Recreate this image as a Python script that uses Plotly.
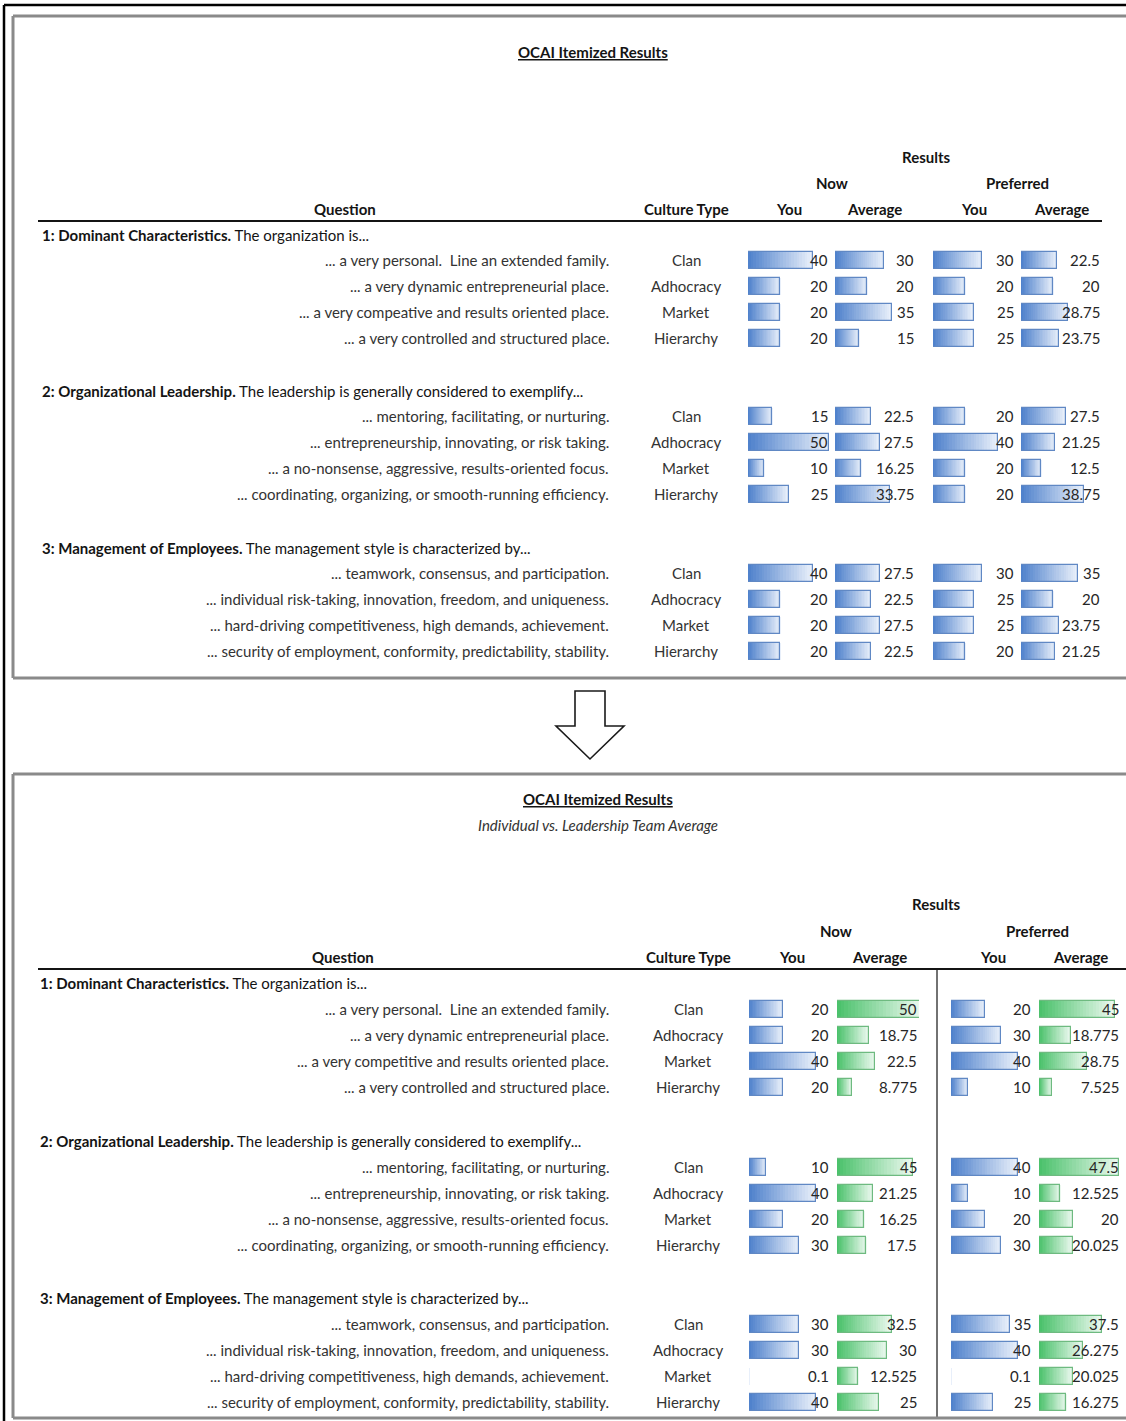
import plotly.graph_objects as go

W, H = 1126, 1421

# ---------------------------------------------------------------- data
culture_types = ["Clan", "Adhocracy", "Market", "Hierarchy"]

section_heads = [
    ("1: Dominant Characteristics.", "The organization is..."),
    ("2: Organizational Leadership.", "The leadership is generally considered to exemplify..."),
    ("3: Management of Employees.", "The management style is characterized by..."),
]

questions_before = [
    "... a very personal.\u00a0 Line an extended family.",
    "... a very dynamic entrepreneurial place.",
    "... a very compeative and results oriented place.",
    "... a very controlled and structured place.",
    "... mentoring, facilitating, or nurturing.",
    "... entrepreneurship, innovating, or risk taking.",
    "... a no-nonsense, aggressive, results-oriented focus.",
    "... coordinating, organizing, or smooth-running efficiency.",
    "... teamwork, consensus, and participation.",
    "... individual risk-taking, innovation, freedom, and uniqueness.",
    "... hard-driving competitiveness, high demands, achievement.",
    "... security of employment, conformity, predictability, stability.",
]
questions_after = list(questions_before)
questions_after[2] = "... a very competitive and results oriented place."

col_heads = ["You", "Average", "You", "Average"]

# first table (three sections x four culture types)
before_now_you = [40, 20, 20, 20, 15, 50, 10, 25, 40, 20, 20, 20]
before_now_avg = [30, 20, 35, 15, 22.5, 27.5, 16.25, 33.75, 27.5, 22.5, 27.5, 22.5]
before_pref_you = [30, 20, 25, 25, 20, 40, 20, 20, 30, 25, 25, 20]
before_pref_avg = [22.5, 20, 28.75, 23.75, 27.5, 21.25, 12.5, 38.75, 35, 20, 23.75, 21.25]

# second table: individual vs. leadership team average
after_now_you = [20, 20, 40, 20, 10, 40, 20, 30, 30, 30, 0.1, 40]
after_now_avg = [50, 18.75, 22.5, 8.775, 45, 21.25, 16.25, 17.5, 32.5, 30, 12.525, 25]
after_pref_you = [20, 30, 40, 10, 40, 10, 20, 30, 35, 40, 0.1, 25]
after_pref_avg = [45, 18.775, 28.75, 7.525, 47.5, 12.525, 20, 20.025, 37.5, 26.275, 20.025, 16.275]

# ---------------------------------------------------------------- styling
FONT = "Lato"
TXT = "#333333"
DARK = "#141414"
BLUE = ((80, 130, 204), (232, 239, 250), "rgb(96,136,196)")
GREEN = ((76, 194, 108), (234, 248, 238), "rgb(110,186,128)")
NSEG = 24

panels = [
    dict(title_x=593, title_y=52, subtitle=None,
         results=(926, 157), now=(832, 183), pref=(1017, 183),
         head_y=209, question_x=345, culture_x=686, heads_x=[789, 874, 974, 1061],
         rule_y=221, rule_x=(38, 1102), sec_y=[235, 391, 548], first_gap=25,
         left_x=40, question_right=611,
         cells=[(748, 830), (835, 916), (933, 1016), (1021, 1102)], scale=1.62,
         palettes=[BLUE, BLUE, BLUE, BLUE], divider_x=None,
         questions=questions_before,
         series=[before_now_you, before_now_avg, before_pref_you, before_pref_avg]),
    dict(title_x=598, title_y=799, subtitle=(598, 825, "Individual vs. Leadership Team Average"),
         results=(936, 904), now=(836, 931), pref=(1037, 931),
         head_y=957, question_x=343, culture_x=688, heads_x=[792, 879, 993, 1080],
         rule_y=969, rule_x=(38, 1126), sec_y=[983, 1141, 1298], first_gap=26,
         left_x=38, question_right=611,
         cells=[(749, 831), (837, 919), (951, 1033), (1039, 1121)], scale=1.68,
         palettes=[BLUE, GREEN, BLUE, GREEN], divider_x=937,
         questions=questions_after,
         series=[after_now_you, after_now_avg, after_pref_you, after_pref_avg]),
]

fig = go.Figure()
annotations = []
shapes = []
axes = {}


def text(x, y, s, size=15, color=TXT, anchor="center"):
    annotations.append(dict(x=x, y=y, xref="x", yref="y", text=s, showarrow=False,
                            xanchor=anchor, yanchor="middle",
                            font=dict(family=FONT, size=size, color=color)))


def line(x0, y0, x1, y1, color=DARK, width=1):
    shapes.append(dict(type="line", xref="x", yref="y", x0=x0, y0=y0, x1=x1, y1=y1,
                       line=dict(color=color, width=width)))


def mix(c0, c1, t):
    return "rgb(%d,%d,%d)" % tuple(round(a + (b - a) * t) for a, b in zip(c0, c1))


axis_no = 2
for p in panels:
    # titles and headers
    text(p["title_x"], p["title_y"], "<u><b>OCAI Itemized Results</b></u>", size=15, color=DARK)
    if p["subtitle"]:
        sx, sy, st = p["subtitle"]
        text(sx, sy, "<i>" + st + "</i>", size=15, color=TXT)
    text(*p["results"], "<b>Results</b>", color=DARK)
    text(*p["now"], "<b>Now</b>", color=DARK)
    text(*p["pref"], "<b>Preferred</b>", color=DARK)
    text(p["question_x"], p["head_y"], "<b>Question</b>", color=DARK)
    text(p["culture_x"], p["head_y"], "<b>Culture Type</b>", color=DARK)
    for hx, ht in zip(p["heads_x"], col_heads):
        text(hx, p["head_y"], "<b>" + ht + "</b>", color=DARK)
    line(p["rule_x"][0], p["rule_y"], p["rule_x"][1], p["rule_y"], width=2.2)

    # row positions
    rows_y = []
    for s, sy in enumerate(p["sec_y"]):
        bold, rest = section_heads[s]
        text(p["left_x"], sy, "<b>%s</b> %s" % (bold, rest), color=DARK, anchor="left")
        for i in range(4):
            rows_y.append(sy + p["first_gap"] + 26 * i)

    for r, y in enumerate(rows_y):
        text(p["question_right"], y, p["questions"][r], anchor="right")
        text(p["culture_x"], y, culture_types[r % 4])

    if p["divider_x"]:
        line(p["divider_x"], p["rule_y"], p["divider_x"], H - 3, width=1.2)

    # data bars: one hidden x axis per results column, gradient built from
    # overlapping bars that each run from a step along the value to its end
    for (left, right), vals, (c0, c1, edge) in zip(p["cells"], p["series"], p["palettes"]):
        ax = "x%d" % axis_no
        axes["xaxis%d" % axis_no] = dict(domain=[left / W, right / W],
                                         range=[0, (right - left) / p["scale"]],
                                         visible=False, fixedrange=True, anchor="y")
        for k in range(NSEG):
            fig.add_trace(go.Bar(
                orientation="h", xaxis=ax, yaxis="y", y=rows_y,
                x=[v * (NSEG - k) / NSEG for v in vals], base=[k * v / NSEG for v in vals],
                width=17, marker=dict(color=mix(c0, c1, k / (NSEG - 1)), line=dict(width=0)),
                hoverinfo="skip", showlegend=False))
        fig.add_trace(go.Bar(
            orientation="h", xaxis=ax, yaxis="y", y=rows_y, x=vals, width=17,
            marker=dict(color="rgba(0,0,0,0)", line=dict(color=edge, width=1.2)),
            hovertemplate="%{x}<extra></extra>", showlegend=False))
        for v, y in zip(vals, rows_y):
            text(right, y, "%g" % v, color="#262626", anchor="right")
        axis_no += 1

# outer frame and panel borders
line(4, 5, W, 5, color="#000000", width=2.5)
line(4, 5, 4, H, color="#000000", width=2.5)
for top, bottom in [(16, 678), (774, 1418)]:
    line(13, top, W, top, color="#8a8a8a", width=3)
    line(13, top, 13, bottom, color="#8a8a8a", width=3)
    line(13, bottom, W, bottom, color="#8a8a8a", width=3)

# hollow arrow between the two tables
cx, shaft, head = 590, 15, 34
shapes.append(dict(type="path", xref="x", yref="y",
                   path="M %d 691 L %d 691 L %d 726 L %d 726 L %d 759 L %d 726 L %d 726 Z" % (
                       cx - shaft, cx + shaft, cx + shaft, cx + head, cx, cx - head, cx - shaft),
                   fillcolor="white", line=dict(color="#1a1a1a", width=1.6)))

fig.update_layout(
    width=W, height=H, margin=dict(l=0, r=0, t=0, b=0),
    paper_bgcolor="white", plot_bgcolor="rgba(0,0,0,0)",
    barmode="overlay", bargap=0,
    xaxis=dict(range=[0, W], visible=False, fixedrange=True, domain=[0, 1]),
    yaxis=dict(range=[H, 0], visible=False, fixedrange=True, domain=[0, 1]),
    annotations=annotations, shapes=shapes, showlegend=False,
    **axes,
)

fig.write_html("out.html")
